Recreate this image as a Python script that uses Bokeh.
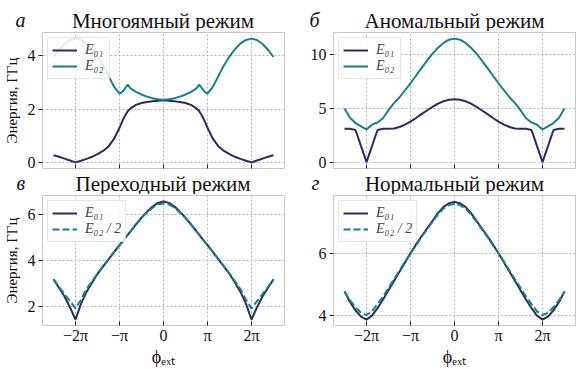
import math
from bokeh.plotting import figure
from bokeh.layouts import column, row
from bokeh.models import FixedTicker, Range1d
from bokeh.core.properties import value
from bokeh.embed import file_html
from bokeh.resources import INLINE

FONT = "Liberation Serif"
DARK = "#2d2c5e"
TEAL = "#15808a"

# x in units of pi
x_ticks = [-2, -1, 0, 1, 2]
x_tick_labels = ["−2π", "−π", "0", "π", "2π"]

titles = ["Многоямный режим", "Аномальный режим", "Переходный режим", "Нормальный режим"]
letters = ["а", "б", "в", "г"]

x_std = [-2.5, -2.375, -2.25, -2.125, -2.0, -1.875, -1.75, -1.625, -1.5, -1.375, -1.25,
         -1.125, -1.0, -0.875, -0.75, -0.625, -0.5, -0.375, -0.25, -0.125, 0.0,
         0.125, 0.25, 0.375, 0.5, 0.625, 0.75, 0.875, 1.0, 1.125, 1.25, 1.375, 1.5,
         1.625, 1.75, 1.875, 2.0, 2.125, 2.25, 2.375, 2.5]

# Panel a: Многоямный режим
x_a = [-2.5, -2.375, -2.25, -2.125, -2.0, -1.875, -1.75, -1.625, -1.5, -1.375, -1.25,
       -1.125, -1.0, -0.9375, -0.875, -0.8125, -0.75, -0.625, -0.5, -0.375, -0.25, -0.125,
       0.0, 0.125, 0.25, 0.375, 0.5, 0.625, 0.75, 0.8125, 0.875, 0.9375, 1.0, 1.125,
       1.25, 1.375, 1.5, 1.625, 1.75, 1.875, 2.0, 2.125, 2.25, 2.375, 2.5]
e01_a = [0.27, 0.21, 0.14, 0.07, 0.0, 0.06, 0.13, 0.21, 0.31, 0.43, 0.60, 0.88, 1.30,
         1.54, 1.75, 1.92, 2.03, 2.16, 2.23, 2.27, 2.30, 2.32,
         2.33, 2.32, 2.30, 2.27, 2.23, 2.16, 2.03, 1.92, 1.75, 1.54, 1.30, 0.88, 0.60,
         0.43, 0.31, 0.21, 0.13, 0.06, 0.0, 0.07, 0.14, 0.21, 0.27]
e02_a = [3.96, 4.23, 4.45, 4.60, 4.65, 4.60, 4.47, 4.25, 3.98, 3.65, 3.25, 2.85, 2.58,
         2.65, 2.78, 2.92, 2.78, 2.65, 2.55, 2.47, 2.41, 2.37,
         2.35, 2.37, 2.41, 2.47, 2.55, 2.65, 2.78, 2.92, 2.78, 2.65, 2.58, 2.85, 3.25,
         3.65, 3.98, 4.25, 4.47, 4.60, 4.65, 4.60, 4.45, 4.23, 3.96]

# Panel б: Аномальный режим
e01_b = [3.12, 3.12, 3.00, 1.50, 0.02, 1.50, 3.00, 3.12, 3.12, 3.15, 3.28, 3.50, 3.78,
         4.12, 4.48, 4.82, 5.15, 5.45, 5.68, 5.82,
         5.86, 5.82, 5.68, 5.45, 5.15, 4.82, 4.48, 4.12, 3.78, 3.50, 3.28, 3.15, 3.12,
         3.12, 3.00, 1.50, 0.02, 1.50, 3.00, 3.12, 3.12]
e02_b = [5.0, 4.15, 3.65, 3.35, 3.05, 3.5, 3.7, 4.1, 4.85, 5.5, 6.05, 6.7, 7.35, 8.05,
         8.75, 9.45, 10.1, 10.65, 11.1, 11.4,
         11.5, 11.4, 11.1, 10.65, 10.1, 9.45, 8.75, 8.05, 7.35, 6.7, 6.05, 5.5, 4.85,
         4.1, 3.7, 3.5, 3.05, 3.35, 3.65, 4.15, 5.0]

# Panel в: Переходный режим
e01_c = [3.17, 2.80, 2.42, 1.95, 1.42, 2.10, 2.62, 3.02, 3.40, 3.72, 4.03, 4.35, 4.65,
         4.95, 5.25, 5.55, 5.85, 6.10, 6.33, 6.49,
         6.55, 6.49, 6.33, 6.10, 5.85, 5.55, 5.25, 4.95, 4.65, 4.35, 4.03, 3.72, 3.40,
         3.02, 2.62, 2.10, 1.42, 1.95, 2.42, 2.80, 3.17]
e02h_c = [3.17, 2.84, 2.52, 2.22, 1.90, 2.28, 2.74, 3.08, 3.42, 3.73, 4.04, 4.35, 4.65,
          4.95, 5.25, 5.54, 5.83, 6.07, 6.28, 6.42,
          6.47, 6.42, 6.28, 6.07, 5.83, 5.54, 5.25, 4.95, 4.65, 4.35, 4.04, 3.73, 3.42,
          3.08, 2.74, 2.28, 1.90, 2.22, 2.52, 2.84, 3.17]

# Panel г: Нормальный режим
e01_d = [4.76, 4.42, 4.15, 3.95, 3.85, 3.98, 4.22, 4.50, 4.80, 5.10, 5.40, 5.70, 6.00,
         6.28, 6.55, 6.80, 7.05, 7.30, 7.50, 7.62,
         7.66, 7.62, 7.50, 7.30, 7.05, 6.80, 6.55, 6.28, 6.00, 5.70, 5.40, 5.10, 4.80,
         4.50, 4.22, 3.98, 3.85, 3.95, 4.15, 4.42, 4.76]
e02h_d = [4.76, 4.48, 4.25, 4.07, 4.00, 4.12, 4.35, 4.60, 4.88, 5.16, 5.44, 5.72, 6.00,
          6.26, 6.52, 6.77, 7.02, 7.26, 7.45, 7.56,
          7.60, 7.56, 7.45, 7.26, 7.02, 6.77, 6.52, 6.26, 6.00, 5.72, 5.44, 5.16, 4.88,
          4.60, 4.35, 4.12, 4.00, 4.07, 4.25, 4.48, 4.76]


def header(title, letter, width, height, letter_x, letter_mid, title_x, title_mid):
    """Strip above a panel holding the panel letter and the panel title."""
    h = figure(frame_width=width, frame_height=height, output_backend="svg",
               toolbar_location=None, title=None,
               x_range=Range1d(0, width), y_range=Range1d(0, height),
               x_axis_location=None, y_axis_location=None,
               min_border_left=0, min_border_right=0, min_border_top=0,
               min_border_bottom=0, outline_line_color=None)
    h.grid.visible = False
    h.text(x=[letter_x], y=[height - letter_mid], text=[letter],
           text_font=value(FONT), text_font_style="italic", text_font_size="20px",
           text_baseline="middle", text_align="left", text_color="#111111")
    h.text(x=[title_x], y=[height - title_mid], text=[title],
           text_font=value(FONT), text_font_size="21px", text_baseline="middle",
           text_align="center", text_color="#111111")
    return h


def make(xs, y1, y2, dashed, lab1, lab2, yticks, yrange,
         width, height, bl, br, bt, bb, bottom_row, ylabel):
    p = figure(width=width, height=height, output_backend="svg", toolbar_location=None,
               x_range=Range1d(-2.75, 2.75), y_range=Range1d(*yrange),
               min_border_left=bl, min_border_right=br, min_border_top=bt,
               min_border_bottom=bb)
    p.outline_line_color = "#c8c8c8"
    p.outline_line_width = 1
    for ax in (p.xaxis[0], p.yaxis[0]):
        ax.axis_line_color = None
        ax.minor_tick_line_color = None
        ax.major_tick_line_color = "#222222"
        ax.major_label_text_font = FONT
        ax.major_label_text_font_size = "16px"
        ax.major_label_text_color = "#111111"
    p.xaxis.ticker = FixedTicker(ticks=x_ticks)
    p.xaxis.major_label_overrides = {t: s for t, s in zip(x_ticks, x_tick_labels)}
    p.xaxis.major_tick_in = 4
    p.xaxis.major_tick_out = 0
    p.yaxis.ticker = FixedTicker(ticks=yticks)
    p.yaxis.major_tick_in = 0
    p.yaxis.major_tick_out = 4
    p.yaxis.major_label_standoff = 3
    if bottom_row:
        p.xaxis.major_label_standoff = 1
        p.xaxis.axis_label = "ϕₑₓₜ"
        p.xaxis.axis_label_text_font = FONT
        p.xaxis.axis_label_text_font_size = "18px"
        p.xaxis.axis_label_text_font_style = "normal"
        p.xaxis.axis_label_text_color = "#111111"
        p.xaxis.axis_label_standoff = 0
    else:
        # shared x axis: no labels, only inward tick marks on the frame edge
        p.xaxis.visible = False
        p.scatter(x_ticks, [yrange[0]] * len(x_ticks), marker="dash", angle=math.pi / 2,
                  size=8, line_color="#222222", line_width=1)
    if ylabel:
        p.yaxis.axis_label = "Энергия, ГГц"
        p.yaxis.axis_label_text_font = FONT
        p.yaxis.axis_label_text_font_size = "15px"
        p.yaxis.axis_label_text_font_style = "normal"
        p.yaxis.axis_label_text_color = "#111111"
        p.yaxis.axis_label_standoff = 5
    for g in (p.xgrid[0], p.ygrid[0]):
        g.grid_line_color = "#b0b0b0"
        g.grid_line_dash = "2 2"
        g.grid_line_width = 1
    p.xgrid.ticker = FixedTicker(ticks=x_ticks)
    p.ygrid.ticker = FixedTicker(ticks=yticks)

    p.line(xs, y1, line_color=DARK, line_width=2, legend_label=lab1)
    if dashed:
        p.line(xs, y2, line_color=TEAL, line_width=2, line_dash="7 3", legend_label=lab2)
    else:
        p.line(xs, y2, line_color=TEAL, line_width=2, legend_label=lab2)

    lg = p.legend[0]
    lg.location = "top_left"
    lg.margin = 5
    lg.padding = 4
    lg.spacing = 0
    lg.label_height = 16
    lg.glyph_height = 16
    lg.glyph_width = 25
    lg.label_standoff = 8
    lg.label_text_font = FONT
    lg.label_text_font_size = "14px"
    lg.label_text_font_style = "italic"
    lg.border_line_color = "#cccccc"
    lg.background_fill_alpha = 0.85
    return p


h1 = header(titles[0], letters[0], 300, 31, 15, 19, 162.5, 20)
h2 = header(titles[1], letters[1], 276, 31, 9, 19, 154, 20)
p1 = make(x_a, e01_a, e02_a, False, "E₀₁", "E₀₂",
          [0, 2, 4], (-0.23, 4.88), 300, 139, 41, 16, 1, 2, False, True)
p2 = make(x_std, e01_b, e02_b, False, "E₀₁", "E₀₂",
          [0, 5, 10], (-0.575, 12.07), 276, 139, 33, 1, 1, 2, False, False)
h3 = header(titles[2], letters[2], 300, 24, 16, 12, 162.5, 13)
h4 = header(titles[3], letters[3], 276, 24, 11, 12, 154, 13)
p3 = make(x_std, e01_c, e02h_c, True, "E₀₁", "E₀₂ / 2",
          [2, 4, 6], (1.16, 6.81), 300, 175, 41, 16, 1, 37, True, True)
p4 = make(x_std, e01_d, e02h_d, True, "E₀₁", "E₀₂ / 2",
          [4, 6], (3.66, 7.87), 276, 175, 33, 1, 1, 37, True, False)

layout = column(row(h1, h2), row(p1, p2), row(h3, h4), row(p3, p4))

open("out.html", "w").write(file_html(layout, INLINE))
